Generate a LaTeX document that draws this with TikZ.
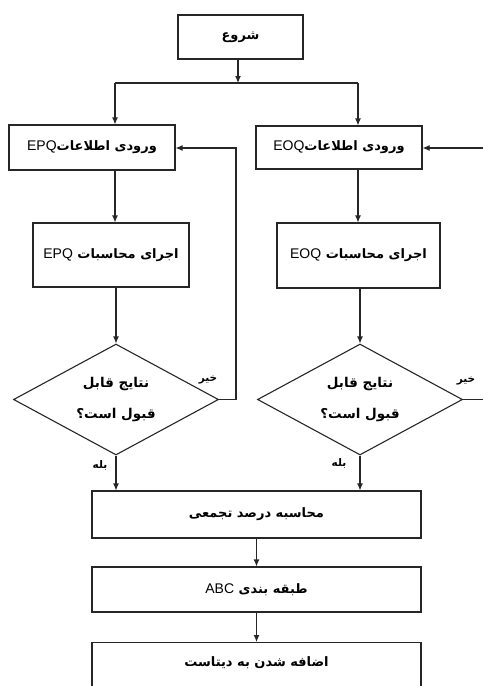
\documentclass[tikz,border=0pt]{standalone}
\usepackage{fontspec}
\setmainfont{Liberation Sans}
\newfontfamily\arfont[Script=Arabic]{DejaVu Sans}
\TeXXeTstate=1
\usetikzlibrary{arrows.meta,shapes.geometric}
\newcommand{\fa}[1]{{\arfont\bfseries\beginR #1\endR}}
\newcommand{\la}[1]{\beginL{\normalfont\fontsize{14}{16}\selectfont #1}\endL}
\begin{document}
\begin{tikzpicture}[x=1pt,y=-1pt,
  line width=1.1pt,
  box/.style={draw=black!85, line width=1.1pt, inner sep=0pt, font=\fontsize{13}{15}\selectfont},
  dec/.style={draw=black!85, line width=1.1pt, diamond, inner sep=0pt, minimum width=205pt, minimum height=111pt},
  dectxt/.style={inner sep=0pt, align=center, font=\fontsize{13.5}{31}\selectfont},
  arr/.style={draw=black!85, line width=1.1pt, -{Latex[length=7pt,width=6pt]}},
  ln/.style={draw=black!85, line width=1.1pt},
  lbl/.style={inner sep=0pt, font=\fontsize{10.5}{12}\selectfont}]
\useasboundingbox (0,0) rectangle (483,686);
\clip (0,0) rectangle (483,686);
% nodes
\node[box, minimum width=125pt, minimum height=44pt] (start) at (240.5,37) {\fa{شروع}};
\node[box, minimum width=166pt, minimum height=45pt] (epqin) at (92,147.5) {\fa{ورودی اطلاعات\la{EPQ}}};
\node[box, minimum width=166pt, minimum height=43pt] (eoqin) at (339,147.5) {\fa{ورودی اطلاعات\la{EOQ}}};
\node[box, minimum width=156pt, minimum height=64pt] (epqcalc) at (111,255) {\fa{اجرای محاسبات \la{EPQ}}};
\node[box, minimum width=163pt, minimum height=65pt] (eoqcalc) at (358.5,255.5) {\fa{اجرای محاسبات \la{EOQ}}};
\node[dec] (dl) at (116,399.5) {};
\node[dectxt] (dltxt) at (dl.center) {\fa{نتایج قابل}\\\fa{قبول است؟}};
\node[dec] (dr) at (360,399.5) {};
\node[dectxt] (drtxt) at (dr.center) {\fa{نتایج قابل}\\\fa{قبول است؟}};
\node[box, minimum width=329pt, minimum height=47pt] (cum) at (256.5,514.5) {\fa{محاسبه درصد تجمعی}};
\node[box, minimum width=329pt, minimum height=45pt] (abc) at (256.5,589.5) {\fa{طبقه بندی \la{ABC}}};
\node[box, minimum width=329pt, minimum height=80pt, anchor=north] (final) at (256.5,642) {};
\node[inner sep=0pt, font=\fontsize{13}{15}\selectfont] (finaltxt) at (256.5,663) {\fa{اضافه  شدن به دیتاست}};
% labels
\node[lbl] (nol) at (208,380) {\fa{خیر}};
\node[lbl] (nor) at (466,381) {\fa{خیر}};
\node[lbl] (yesl) at (100,465) {\fa{بله}};
\node[lbl] (yesr) at (339,463) {\fa{بله}};
% coordinates
\coordinate (jm) at (238,83);
\coordinate (jl) at (115,83);
\coordinate (jr) at (358,83);
\coordinate (fbl) at (236,148);
\coordinate (inr) at (483,148);
\coordinate (outr) at (483,399.5);
% connectors
\draw[arr] (jm |- start.south) -- (jm);
\draw[ln] (jl) -- (jr);
\draw[arr] (jl) -- (jl |- epqin.north);
\draw[arr] (jr) -- (jr |- eoqin.north);
\draw[arr] (jl |- epqin.south) -- (jl |- epqcalc.north);
\draw[arr] (jr |- eoqin.south) -- (jr |- eoqcalc.north);
\draw[arr] (dl.north |- epqcalc.south) -- (dl.north);
\draw[arr] (dr.north |- eoqcalc.south) -- (dr.north);
\draw[arr] (dl.east) -| (fbl) -- (epqin.east |- fbl);
\draw[arr] (inr) -- (eoqin.east |- inr);
\draw[ln] (dr.east) -- (outr);
\draw[arr] (dl.south) -- (dl.south |- cum.north);
\draw[arr] (dr.south) -- (dr.south |- cum.north);
\draw[arr] (cum.south) -- (abc.north);
\draw[arr] (abc.south) -- (final.north);
\end{tikzpicture}
\end{document}
